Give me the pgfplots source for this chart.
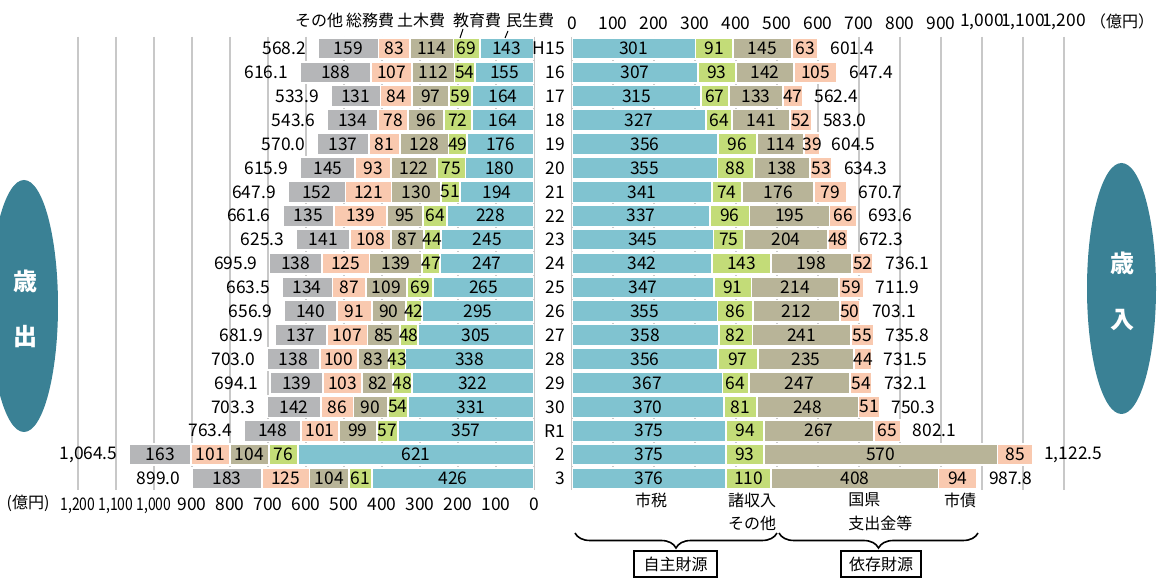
\documentclass[border=0pt]{standalone}
\usepackage{graphicx}
\usepackage{pgfplots}
\pgfplotsset{compat=1.18}
\usepackage{pgfplotstable}
\usepackage{fontspec}
\setmainfont{Noto Sans CJK JP}
\usetikzlibrary{decorations.pathreplacing}

\definecolor{cblue}{RGB}{128,195,208}
\definecolor{cgreen}{RGB}{195,220,120}
\definecolor{ckhaki}{RGB}{184,180,152}
\definecolor{cpeach}{RGB}{249,201,175}
\definecolor{cgrey}{RGB}{181,182,184}
\definecolor{cteal}{RGB}{58,129,149}
\definecolor{cgrid}{RGB}{200,200,200}

\newcommand\numfont{\fontsize{8.7pt}{10pt}\selectfont}
\newcommand\jfont{\fontsize{8pt}{10pt}\selectfont}
\newcommand\nar[1]{\scalebox{0.8}[1]{#1}}

% 歳出: 民生費 教育費 土木費 総務費 その他 合計
\pgfplotstableread{
idx min kyo dob som oth tot tl
0 143 69 114 83 159 568.2 568.2
1 155 54 112 107 188 616.1 616.1
2 164 59 97 84 131 533.9 533.9
3 164 72 96 78 134 543.6 543.6
4 176 49 128 81 137 570.0 570.0
5 180 75 122 93 145 615.9 615.9
6 194 51 130 121 152 647.9 647.9
7 228 64 95 139 135 661.6 661.6
8 245 44 87 108 141 625.3 625.3
9 247 47 139 125 138 695.9 695.9
10 265 69 109 87 134 663.5 663.5
11 295 42 90 91 140 656.9 656.9
12 305 48 85 107 137 681.9 681.9
13 338 43 83 100 138 703.0 703.0
14 322 48 82 103 139 694.1 694.1
15 331 54 90 86 142 703.3 703.3
16 357 57 99 101 148 763.4 763.4
17 621 76 104 101 163 1064.5 1,064.5
18 426 61 104 125 183 899.0 899.0
}\lefttab

% 歳入: 市税 諸収入その他 国県支出金等 市債 合計
\pgfplotstableread{
idx zei sho koku sai tot tl
0 301 91 145 63 601.4 601.4
1 307 93 142 105 647.4 647.4
2 315 67 133 47 562.4 562.4
3 327 64 141 52 583.0 583.0
4 356 96 114 39 604.5 604.5
5 355 88 138 53 634.3 634.3
6 341 74 176 79 670.7 670.7
7 337 96 195 66 693.6 693.6
8 345 75 204 48 672.3 672.3
9 342 143 198 52 736.1 736.1
10 347 91 214 59 711.9 711.9
11 355 86 212 50 703.1 703.1
12 358 82 241 55 735.8 735.8
13 356 97 235 44 731.5 731.5
14 367 64 247 54 732.1 732.1
15 370 81 248 51 750.3 750.3
16 375 94 267 65 802.1 802.1
17 375 93 570 85 1122.5 1,122.5
18 376 110 408 94 987.8 987.8
}\righttab

\pgfplotsset{
  base/.style={
    scale only axis, height=226.95pt,
    ymin=-0.5, ymax=18.5, y dir=reverse,
    xmin=0, xmax=1200, enlargelimits=false,
    axis line style={draw=none}, tick style={draw=none},
    anchor=north west,
    /pgf/number format/assume math mode=true,
    ticklabel style={font=\numfont},
  },
  barax/.style={
    base, xbar stacked, bar width=10.7pt,
    xmajorgrids, grid style={draw=cgrid, line width=0.6pt},
    xtick={0,100,...,1200},
  },
  segs/.style={draw=white, line width=0.9pt},
  lblax/.style={
    base, hide axis, clip=false,
    point meta=explicit symbolic, nodes near coords,
    nodes near coords align=center,
    every node near coord/.append style={font=\numfont, inner sep=0pt, text=black},
  },
  lbl/.style={draw=none, mark=none},
}

\begin{document}
\begin{tikzpicture}
\path[use as bounding box] (0,0) rectangle (579pt,-290.5pt);

% ---- left (歳出) bars
\begin{axis}[barax, width=228pt, at={(39pt,-18.28pt)}, x dir=reverse, ytick=\empty,
  xticklabels={0,100,200,300,400,500,600,700,800,900,{\nar{1,000}},{\nar{1,100}},{\nar{1,200}}}]
\addplot[segs, fill=cblue]  table[x=min, y=idx] \lefttab;
\addplot[segs, fill=cgreen] table[x=kyo, y=idx] \lefttab;
\addplot[segs, fill=ckhaki] table[x=dob, y=idx] \lefttab;
\addplot[segs, fill=cpeach] table[x=som, y=idx] \lefttab;
\addplot[segs, fill=cgrey]  table[x=oth, y=idx] \lefttab;
\end{axis}

% ---- right (歳入) bars
\begin{axis}[barax, width=246pt, at={(286pt,-18.28pt)}, xticklabel pos=upper,
  xticklabels={0,100,200,300,400,500,600,700,800,900,{1,000},{1,100},{1,200}},
  ytick={0,...,18},
  yticklabels={H15,16,17,18,19,20,21,22,23,24,25,26,27,28,29,30,R1,2,3}]
\addplot[segs, fill=cblue]  table[x=zei, y=idx] \righttab;
\addplot[segs, fill=cgreen] table[x=sho, y=idx] \righttab;
\addplot[segs, fill=ckhaki] table[x=koku, y=idx] \righttab;
\addplot[segs, fill=cpeach] table[x=sai, y=idx] \righttab;
\end{axis}

% ---- left labels
\begin{axis}[lblax, width=228pt, at={(39pt,-18.28pt)}, x dir=reverse]
\addplot[lbl] table[x expr=\thisrow{min}/2, y=idx, meta=min] \lefttab;
\addplot[lbl] table[x expr=\thisrow{min}+\thisrow{kyo}/2, y=idx, meta=kyo] \lefttab;
\addplot[lbl] table[x expr=\thisrow{min}+\thisrow{kyo}+\thisrow{dob}/2, y=idx, meta=dob] \lefttab;
\addplot[lbl] table[x expr=\thisrow{min}+\thisrow{kyo}+\thisrow{dob}+\thisrow{som}/2, y=idx, meta=som] \lefttab;
\addplot[lbl] table[x expr=\thisrow{min}+\thisrow{kyo}+\thisrow{dob}+\thisrow{som}+\thisrow{oth}/2, y=idx, meta=oth] \lefttab;
\addplot[lbl, nodes near coords={\makebox[0pt][r]{\pgfplotspointmeta}},
  every node near coord/.append style={xshift=-6pt}] table[x=tot, y=idx, meta=tl] \lefttab;
\end{axis}

% ---- right labels
\begin{axis}[lblax, width=246pt, at={(286pt,-18.28pt)}]
\addplot[lbl] table[x expr=\thisrow{zei}/2, y=idx, meta=zei] \righttab;
\addplot[lbl] table[x expr=\thisrow{zei}+\thisrow{sho}/2, y=idx, meta=sho] \righttab;
\addplot[lbl] table[x expr=\thisrow{zei}+\thisrow{sho}+\thisrow{koku}/2, y=idx, meta=koku] \righttab;
\addplot[lbl] table[x expr=\thisrow{zei}+\thisrow{sho}+\thisrow{koku}+\thisrow{sai}/2, y=idx, meta=sai] \righttab;
\addplot[lbl, nodes near coords={\makebox[0pt][l]{\pgfplotspointmeta}},
  every node near coord/.append style={xshift=6pt}] table[x=tot, y=idx, meta=tl] \righttab;
\end{axis}

% ---- annotations (pixel coordinates, y downward)
\begin{scope}[x=0.5pt, y=-0.5pt]
\fill[cteal] (24,306) ellipse [x radius=17pt, y radius=63pt];
\fill[cteal] (1121.5,288.5) ellipse [x radius=17.25pt, y radius=62.75pt];
\node[text=white, font=\fontsize{12pt}{13pt}\selectfont\bfseries] at (25,281) {歳};
\node[text=white, font=\fontsize{12pt}{13pt}\selectfont\bfseries] at (25,337) {出};
\node[text=white, font=\fontsize{12pt}{13pt}\selectfont\bfseries] at (1122,263) {歳};
\node[text=white, font=\fontsize{12pt}{13pt}\selectfont\bfseries] at (1122,320) {入};

% headers (歳出)
\node[font=\jfont] at (319,20) {その他};
\node[font=\jfont] at (370,20) {総務費};
\node[font=\jfont] at (421,20) {土木費};
\node[font=\jfont] at (477,20) {教育費};
\node[font=\jfont] at (530,20) {民生費};
\draw[line width=0.5pt] (463,29) -- (460,38);
\draw[line width=0.5pt] (508,31) -- (505,38);

% units
\node[font=\jfont] at (1122,21) {（億円）};
\node[font=\jfont] at (28,503) {(億円)};

% revenue categories
\node[font=\jfont] at (651,500) {市税};
\node[font=\jfont] at (752,500) {諸収入};
\node[font=\jfont] at (752,523) {その他};
\node[font=\jfont, anchor=west, inner xsep=0pt] at (848,500) {国県};
\node[font=\jfont, anchor=west, inner xsep=0pt] at (848,523) {支出金等};
\node[font=\jfont] at (960,500) {市債};

% braces and boxes
\draw[decorate, decoration={brace, mirror, amplitude=7.5pt}, line width=0.8pt] (575,533) -- (777,533);
\draw[decorate, decoration={brace, mirror, amplitude=7.5pt}, line width=0.8pt] (779,533) -- (978,533);
\draw[line width=1pt] (634,551) rectangle (717,577);
\node[font=\jfont] at (675.5,564) {自主財源};
\draw[line width=1pt] (841,551) rectangle (921,577);
\node[font=\jfont] at (881,564) {依存財源};
\end{scope}
\end{tikzpicture}
\end{document}
